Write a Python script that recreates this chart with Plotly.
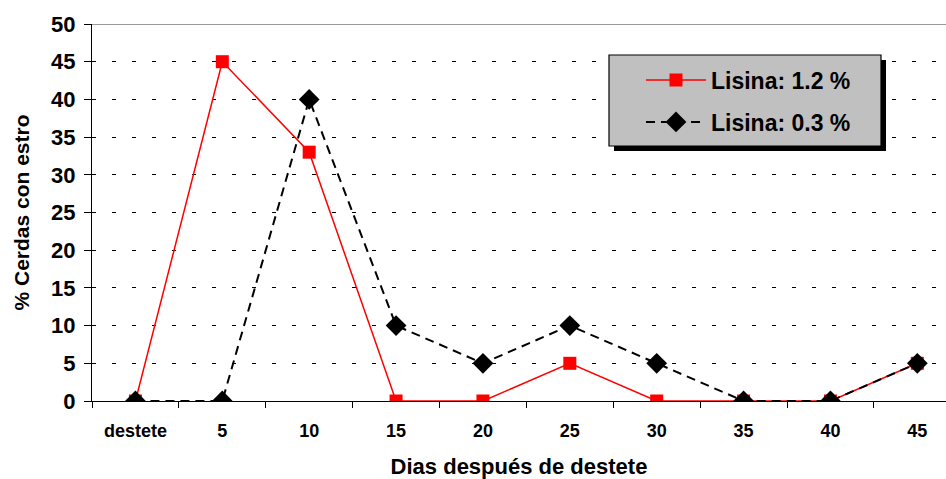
import plotly.graph_objects as go

categories = ["destete", "5", "10", "15", "20", "25", "30", "35", "40", "45"]
lisina_12 = [0, 45, 33, 0, 0, 5, 0, 0, 0, 5]
lisina_03 = [0, 0, 40, 10, 5, 10, 5, 0, 0, 5]
y_ticks = list(range(0, 51, 5))

L, T, W, H = 92, 24, 854, 377


def px(x):
    return (x - L) / W


def py(y):
    return (T + H - y) / H


fig = go.Figure()
fig.add_trace(go.Scatter(
    x=categories, y=lisina_12, name="Lisina: 1.2 %", mode="lines+markers",
    line=dict(color="#ff0000", width=1.5),
    marker=dict(symbol="square", size=13, color="#ff0000"),
    legend="legend",
))
fig.add_trace(go.Scatter(
    x=categories, y=lisina_03, name="Lisina: 0.3 %", mode="lines+markers",
    line=dict(color="#000000", width=2, dash="9px,6px"),
    marker=dict(symbol="diamond", size=16, color="#000000"),
    legend="legend2",
))

# legend box shadow and box
fig.add_shape(type="rect", xref="paper", yref="paper",
              x0=px(614), x1=px(886), y0=py(151), y1=py(60),
              fillcolor="#000000", line=dict(width=0), layer="above")
fig.add_shape(type="rect", xref="paper", yref="paper",
              x0=px(609), x1=px(881), y0=py(146), y1=py(55),
              fillcolor="#c0c0c0", line=dict(color="#000000", width=1.2), layer="above")
fig.add_shape(type="line", xref="paper", yref="y", x0=0, x1=1, y0=50, y1=50,
              line=dict(color="#999999", width=2))

leg_font = dict(size=23, family="Liberation Sans, Arial", color="black", weight="bold")
fig.update_layout(
    width=946, height=479,
    margin=dict(l=L, r=0, t=T, b=479 - T - H),
    paper_bgcolor="white", plot_bgcolor="white",
    font=dict(family="Liberation Sans, Arial", color="black"),
    showlegend=True,
    legend=dict(
        x=px(641), y=py(80), xanchor="left", yanchor="middle",
        bgcolor="rgba(0,0,0,0)", borderwidth=0, font=leg_font, itemwidth=60,
    ),
    legend2=dict(
        x=px(641), y=py(122), xanchor="left", yanchor="middle",
        bgcolor="rgba(0,0,0,0)", borderwidth=0, font=leg_font, itemwidth=60,
    ),
    xaxis=dict(
        type="category", range=[-0.5, 9.33],
        showline=True, linecolor="black", linewidth=1,
        ticks="outside", ticklen=6, tickcolor="black", tickson="boundaries",
        showgrid=False, ticklabelstandoff=13,
        tickfont=dict(size=18, weight="bold"),
        title=dict(text="Dias después de destete", font=dict(size=22, weight="bold"), standoff=19),
    ),
    yaxis=dict(
        range=[0, 50], tickvals=y_ticks,
        showline=True, linecolor="black", linewidth=1,
        ticks="outside", ticklen=7, tickcolor="black",
        showgrid=True, gridcolor="#000000", gridwidth=1, griddash="4px,16px",
        zeroline=False, ticklabelstandoff=4,
        tickfont=dict(size=22, weight="bold"),
        title=dict(text="% Cerdas con estro", font=dict(size=21, weight="bold"), standoff=15),
    ),
)

fig.write_html("out.html")
